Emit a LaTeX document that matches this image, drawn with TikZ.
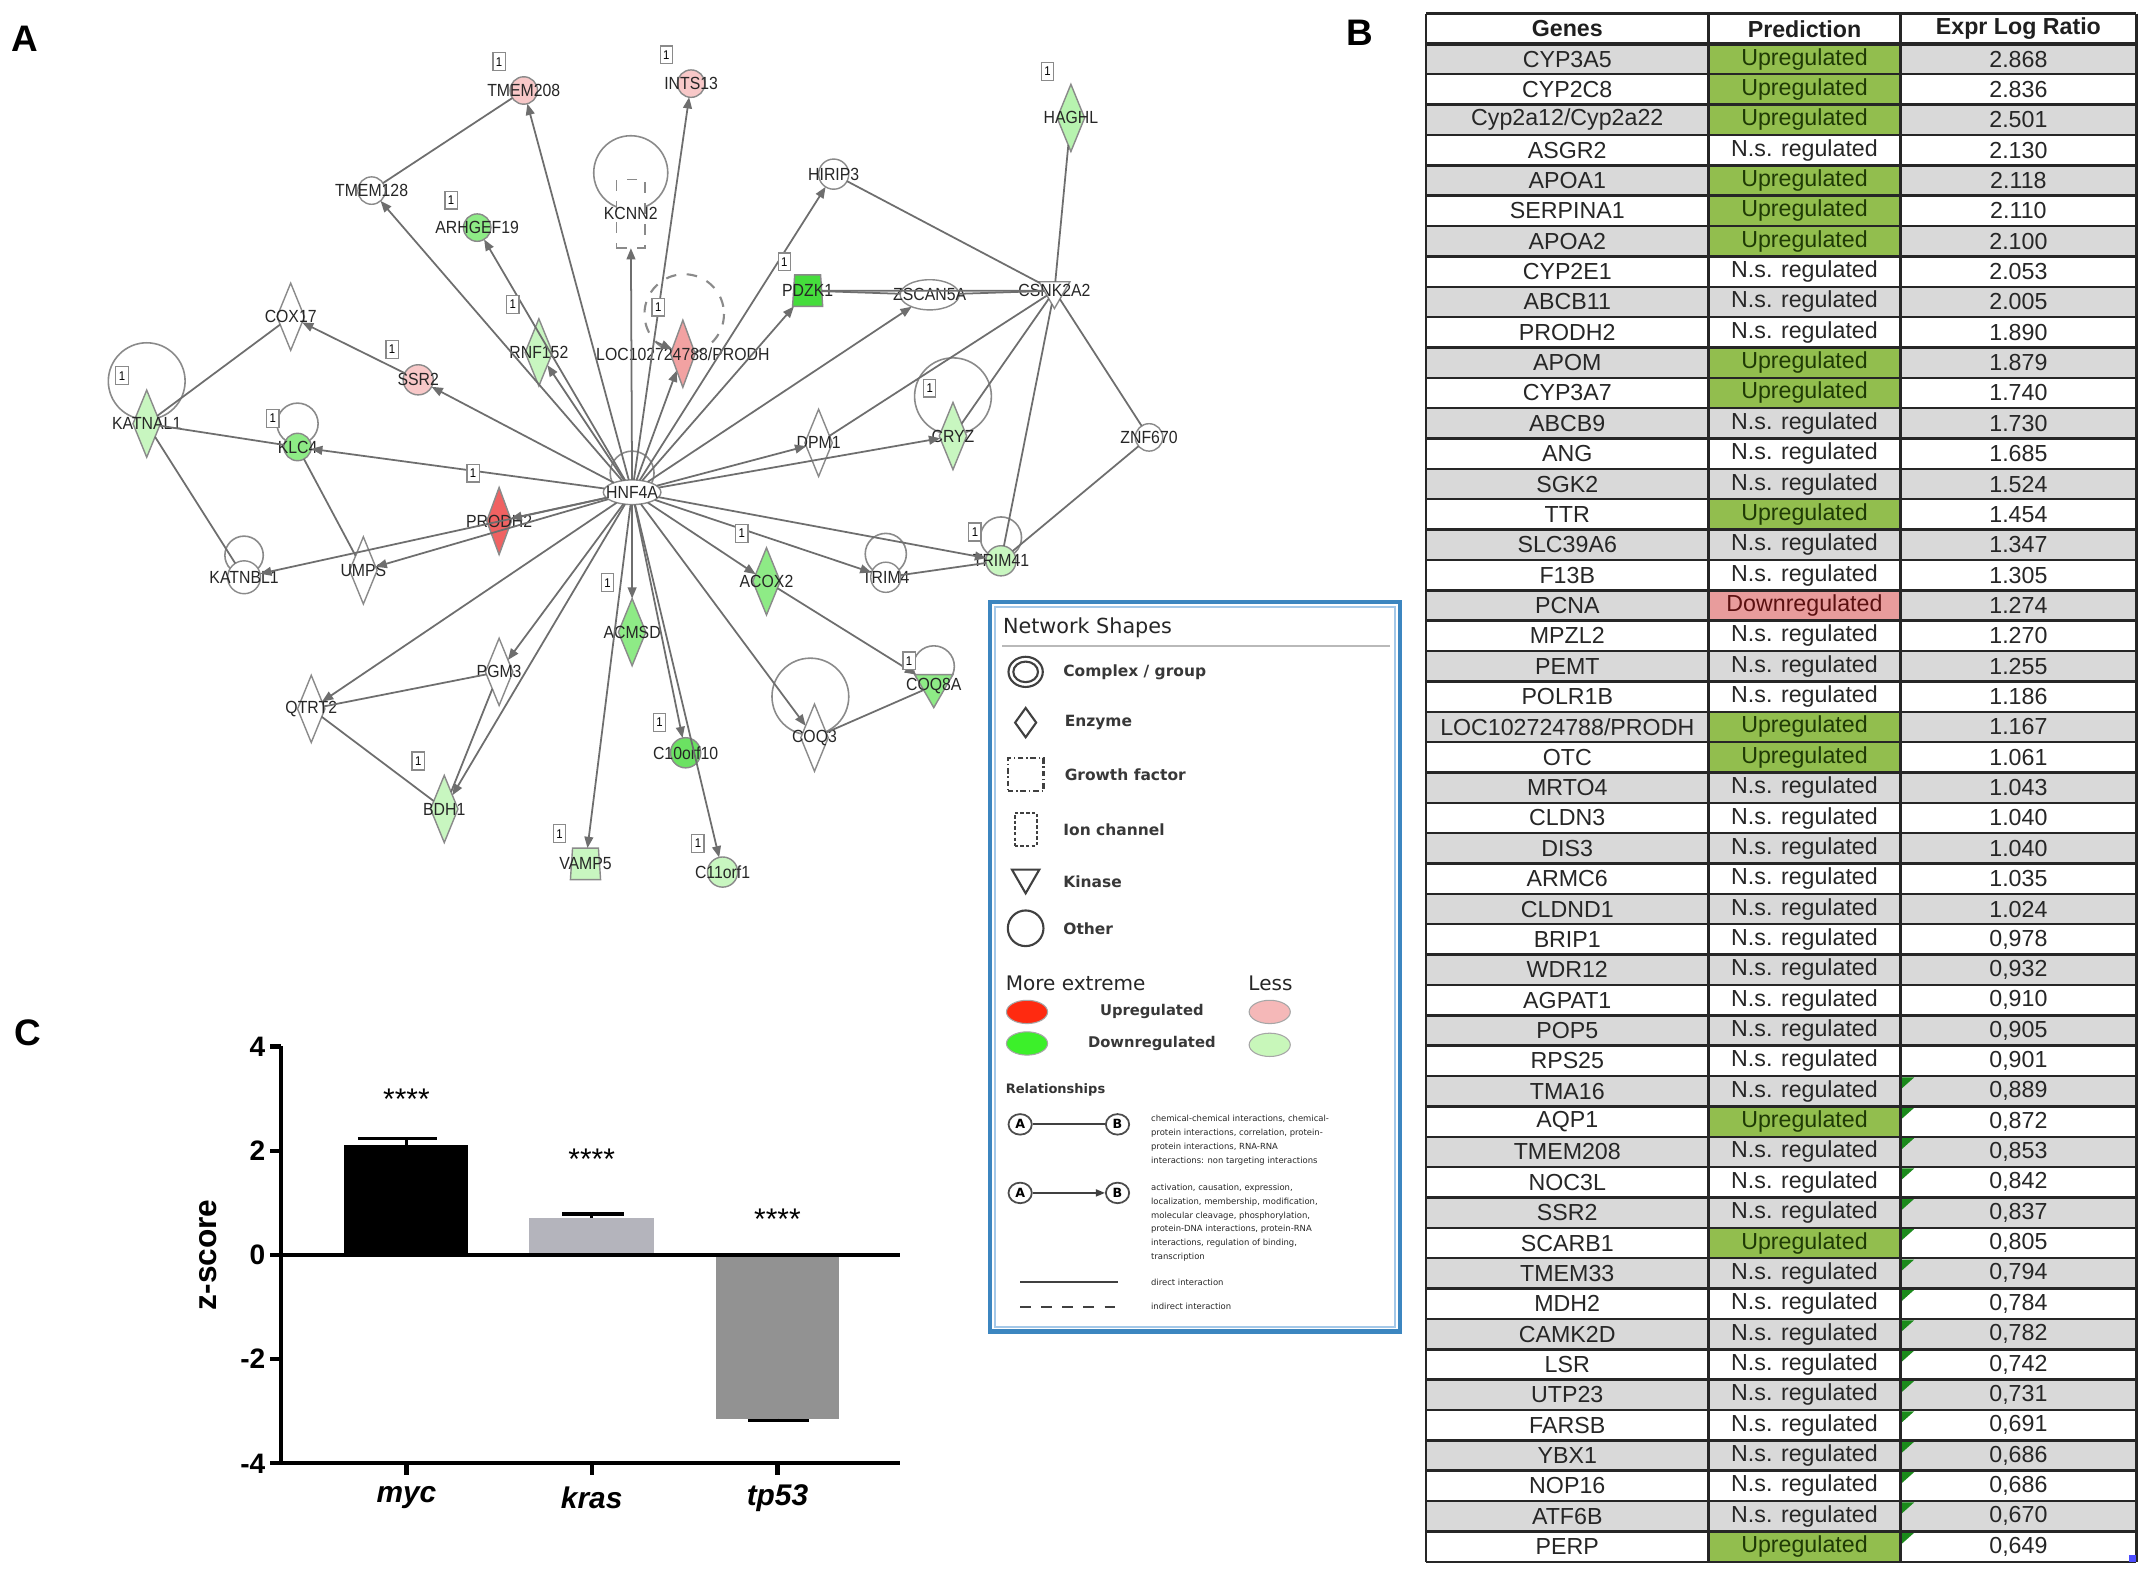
\documentclass[tikz,border=0pt]{standalone}
\usepackage{fontspec}
\setmainfont{Liberation Sans}
\newfontfamily\netfont[FakeStretch=0.9]{Liberation Sans}
\newfontfamily\legfont{DejaVu Sans}
\usetikzlibrary{calc, shapes.geometric, arrows.meta, backgrounds}

\definecolor{edgegray}{HTML}{6E6E6E}
\definecolor{nodegray}{HTML}{8A8A8A}
\definecolor{upmore}{HTML}{F06262}
\definecolor{upmid}{HTML}{F2A2A2}
\definecolor{upless}{HTML}{F8C8C8}
\definecolor{downmore}{HTML}{45DD3C}
\definecolor{downbright}{HTML}{6BE262}
\definecolor{downmid}{HTML}{8EEB86}
\definecolor{downless}{HTML}{C8F6C0}
\definecolor{legred}{HTML}{FF2A10}
\definecolor{leggreen}{HTML}{3CF02A}
\definecolor{legpink}{HTML}{F5B8B8}
\definecolor{leglgreen}{HTML}{C8F7BA}
\definecolor{legblue}{HTML}{3C86C0}
\definecolor{legblue2}{HTML}{A4C8E8}
\definecolor{rowgray}{HTML}{D9D9D9}
\definecolor{predgreen}{HTML}{92BE4E}
\definecolor{predpink}{HTML}{E89C9C}
\definecolor{uptext}{HTML}{1F3A05}
\definecolor{dntext}{HTML}{5A1010}
\definecolor{flaggreen}{HTML}{1B8A1B}
\definecolor{krasgray}{HTML}{B4B4BC}
\definecolor{tpgray}{HTML}{929292}

\newlength\dpx
\setlength\dpx{0.1371mm}
\newcommand{\glab}[1]{\makebox[0pt]{#1}}
\newcommand{\txtU}{\textcolor{uptext}{Upregulated}}
\newcommand{\txtN}{N.s. regulated}
\newcommand{\txtD}{\textcolor{dntext}{Downregulated}}

\tikzset{
  panel/.style={font=\bfseries\fontsize{10.5}{10.5}\selectfont, inner sep=0pt},
  % network shapes
  gene/.style={draw=nodegray, line width=0.4pt, fill=white, inner sep=0pt, outer sep=0pt,
    font=\netfont\fontsize{5}{5}\selectfont, text=black!85},
  other/.style={gene, circle, minimum size=20*\dpx},
  enzyme/.style={gene, diamond, minimum width=20*\dpx, minimum height=49*\dpx},
  kinase/.style={gene, regular polygon, regular polygon sides=3, shape border rotate=180, minimum size=26*\dpx},
  transp/.style={gene, trapezium, trapezium stretches body=true, trapezium left angle=80,
    trapezium right angle=80, minimum width=22*\dpx, minimum height=23*\dpx},
  ionch/.style={gene, rectangle, dashed, minimum width=21*\dpx, minimum height=50*\dpx},
  oval/.style={gene, ellipse, minimum width=42*\dpx, minimum height=18*\dpx},
  link/.style={draw=edgegray, line width=0.5pt},
  act/.style={link, -{Triangle[length=3.2pt,width=2.5pt]}},
  loopline/.style={draw=nodegray, line width=0.45pt},
  badge/.style={draw=nodegray, fill=white, line width=0.35pt, inner sep=0pt,
    minimum width=9*\dpx, minimum height=13*\dpx, font=\netfont\fontsize{3.6}{3.6}\selectfont},
  % legend
  legtitle/.style={anchor=west, inner sep=0pt, font=\legfont\fontsize{5.9}{5.9}\selectfont, text=black!85},
  legshape/.style={draw=black!75, line width=0.6pt, inner sep=0pt},
  legkey/.style={anchor=west, inner sep=0pt, font=\legfont\bfseries\fontsize{4.4}{4.4}\selectfont, text=black!78},
  legsub/.style={anchor=west, inner sep=0pt, font=\legfont\fontsize{5.7}{5.7}\selectfont, text=black!85},
  legcol/.style={inner sep=0pt, font=\legfont\bfseries\fontsize{4.2}{4.2}\selectfont, text=black!78},
  legdot/.style={ellipse, draw=black!35, line width=0.3pt, minimum width=30*\dpx, minimum height=17*\dpx, inner sep=0pt},
  legrel/.style={anchor=west, inner sep=0pt, font=\legfont\bfseries\fontsize{3.7}{3.7}\selectfont, text=black!80},
  abnode/.style={ellipse, draw=black!70, line width=0.5pt, minimum width=17*\dpx, minimum height=15*\dpx,
    inner sep=0pt, font=\legfont\bfseries\fontsize{3.6}{3.6}\selectfont},
  legedge/.style={draw=black!75, line width=0.5pt},
  legtiny/.style={anchor=north west, align=left, inner sep=0pt, font=\legfont\fontsize{2.4}{3.93}\selectfont, text=black!85},
  % table
  tgrid/.style={draw=black!85, line width=0.7pt},
  thead/.style={inner sep=0pt, font=\bfseries\fontsize{6.6}{6.6}\selectfont, text=black!88},
  tcell/.style={inner sep=0pt, font=\fontsize{6.6}{6.6}\selectfont, text=black!85},
  % chart
  axis/.style={draw=black, line width=1.2pt},
  errbar/.style={draw=black, line width=1pt},
  ticklbl/.style={anchor=east, inner sep=0pt, font=\bfseries\fontsize{8}{8}\selectfont},
  catlbl/.style={inner sep=0pt, font=\bfseries\itshape\fontsize{8.5}{8.5}\selectfont},
  stars/.style={inner sep=0pt, font=\fontsize{8.5}{8.5}\selectfont},
  zlabel/.style={rotate=90, inner sep=0pt, font=\bfseries\fontsize{9}{9}\selectfont}
}

\begin{document}
\begin{tikzpicture}[x=0.1371mm, y=-0.1371mm]
  \useasboundingbox (0,0) rectangle (1568,1149);
  \begin{scope}[on background layer]
    \fill[white] (-2,-2) rectangle (1570,1151);
  \end{scope}

  % panel letters
  \node[panel] (panA) at (18,28) {A};
  \node[panel] (panB) at (992,24) {B};
  \node[panel] (panC) at (20,753) {C};

  % ---------------- A: network ----------------
  \node[other, fill=upless] (tmem208) at (382,66) {\glab{TMEM208}};
  \node[other, fill=upless] (ints13) at (504,61) {\glab{INTS13}};
  \node[other] (tmem128) at (271,139) {\glab{TMEM128}};
  \node[other, fill=downmid] (arhgef19) at (348,166) {\glab{ARHGEF19}};
  \node[ionch] (kcnn2) at (460,156) {\glab{KCNN2}};
  \node[other, minimum size=22*\dpx] (hirip3) at (608,127) {\glab{HIRIP3}};
  \node[enzyme, fill=downless!70!downmid] (haghl) at (781,86) {\glab{HAGHL}};
  \node[enzyme] (cox17) at (212,231) {\glab{COX17}};
  \node[enzyme, fill=downless] (rnf152) at (393,257) {\glab{RNF152}};
  \node[enzyme, fill=upmid, minimum width=18*\dpx] (loc) at (498,258) {\glab{LOC102724788/PRODH}};
  \node[transp, fill=downmore] (pdzk1) at (589,212) {\glab{PDZK1}};
  \node[oval, minimum width=43*\dpx, minimum height=22*\dpx] (zscan5a) at (678,215) {\glab{ZSCAN5A}};
  \node[kinase] (csnk2a2) at (769,212) {\glab{CSNK2A2}};
  \node[other, fill=upless, minimum size=22*\dpx] (ssr2) at (305,277) {\glab{SSR2}};
  \node[enzyme, fill=downless] (katnal1) at (107,309) {\glab{KATNAL1}};
  \node[other, fill=downmid] (klc4) at (217,326) {\glab{KLC4}};
  \node[enzyme] (dpm1) at (597,323) {\glab{DPM1}};
  \node[enzyme, fill=downless] (cryz) at (695,318) {\glab{CRYZ}};
  \node[other] (znf670) at (838,319) {\glab{ZNF670}};
  \node[oval] (hnf4a) at (461,359) {\glab{HNF4A}};
  \node[enzyme, fill=upmore, minimum width=18*\dpx] (prodh2) at (364,380) {\glab{PRODH2}};
  \node[other, minimum size=24*\dpx] (katnbl1) at (178,421) {\glab{KATNBL1}};
  \node[enzyme] (umps) at (265,416) {\glab{UMPS}};
  \node[other, minimum size=22*\dpx] (trim4) at (646,421) {\glab{TRIM4}};
  \node[other, fill=downless, minimum size=22*\dpx] (trim41) at (730,409) {\glab{TRIM41}};
  \node[enzyme, fill=downmid] (acox2) at (559,424) {\glab{ACOX2}};
  \node[enzyme, fill=downmid] (acmsd) at (461,461) {\glab{ACMSD}};
  \node[enzyme] (pgm3) at (364,490) {\glab{PGM3}};
  \node[enzyme] (qtrt2) at (227,517) {\glab{QTRT2}};
  \node[kinase, fill=downmid, minimum size=30*\dpx] (coq8a) at (681,500) {\glab{COQ8A}};
  \node[enzyme] (coq3) at (594,538) {\glab{COQ3}};
  \node[other, fill=downbright, minimum size=22*\dpx] (c10orf10) at (500,549) {\glab{C10orf10}};
  \node[enzyme, fill=downless] (bdh1) at (324,590) {\glab{BDH1}};
  \node[transp, fill=downless] (vamp5) at (427,630) {\glab{VAMP5}};
  \node[other, fill=downless, minimum size=22*\dpx] (c11orf1) at (527,636) {\glab{C11orf1}};

  % self loops, behind the nodes
  \begin{scope}[on background layer]
    \foreach \lx/\ly/\lr in {460/126/27, 107/278/28, 217/309/15, 695/289/28, 178/405/14,
                              646/404/15, 730/392/15, 681/486/15, 591/508/28, 461/345/16}
      \draw[loopline] (\lx,\ly) circle [radius=\lr];
    \draw[loopline, dashed, line width=0.6pt] (499,229) circle [radius=29];
  \end{scope}
  \coordinate (locloop) at ($(499,229)+(135:29)$);
  \draw[act] (locloop) -- (loc);

  % HNF4A targets
  \foreach \t in {tmem208,ints13,tmem128,arhgef19,kcnn2,rnf152,loc,hirip3,pdzk1,zscan5a,
                  ssr2,klc4,dpm1,cryz,prodh2,katnbl1,umps,trim4,trim41,acox2,acmsd,
                  c10orf10,c11orf1,vamp5,coq3,pgm3,qtrt2,bdh1}
    \draw[act] (hnf4a) -- (\t);

  % other relations
  \foreach \a/\b in {tmem128/tmem208, hirip3/csnk2a2, pdzk1/zscan5a, zscan5a/csnk2a2,
                     pdzk1/csnk2a2, haghl/csnk2a2, csnk2a2/dpm1, csnk2a2/cryz, csnk2a2/trim41,
                     csnk2a2/znf670, znf670/trim41, trim4/trim41, cox17/katnal1, katnal1/klc4,
                     klc4/umps, katnal1/katnbl1, coq3/coq8a, pgm3/qtrt2, qtrt2/bdh1, pgm3/bdh1}
    \draw[link] (\a) -- (\b);
  \draw[act] (ssr2) -- (cox17);
  \draw[act] (acox2) -- (coq8a);

  % little "1" boxes
  \foreach \bx/\by [count=\k] in {364/45, 486/40, 329/146, 764/52, 374/222, 480/224, 572/191,
                                  286/255, 89/274, 199/305, 678/283, 345/345, 711/388, 541/389,
                                  443/425, 663/482, 481/527, 305/555, 408/608, 509/615}
    \node[badge] (badge\k) at (\bx,\by) {1};

  % ---------------- legend ----------------
  \draw[legblue, line width=1.3pt] (722,439) rectangle (1021,971);
  \draw[legblue2, line width=0.5pt] (725.5,442.5) rectangle (1017.5,967.5);
  \node[legtitle] (lgtitle) at (731,458) {Network Shapes};
  \draw[gray!55, line width=0.5pt] (731,471) -- (1014,471);

  \draw[legshape] (748,490) ellipse [x radius=12.5, y radius=11];
  \draw[legshape] (748,490) ellipse [x radius=9, y radius=7.5];
  \node[legshape, diamond, minimum width=16*\dpx, minimum height=22*\dpx] (lgenz) at (748,527) {};
  \node[legshape, rectangle, minimum width=26*\dpx, minimum height=24*\dpx,
        dash pattern=on 1.6pt off 0.8pt on 0.4pt off 0.8pt] (lggf) at (748,565) {};
  \node[legshape, rectangle, minimum width=16*\dpx, minimum height=24*\dpx,
        dash pattern=on 1pt off 0.6pt] (lgion) at (748,605) {};
  \node[legshape, regular polygon, regular polygon sides=3, shape border rotate=180,
        minimum size=23*\dpx] (lgkin) at (748,640) {};
  \node[legshape, circle, minimum size=26*\dpx] (lgoth) at (748,677) {};

  \node[legkey] (lkcomplex) at (775,490) {Complex / group};
  \node[legkey] (lkenz) at (776,527) {Enzyme};
  \node[legkey] (lkgf) at (776,565) {Growth factor};
  \node[legkey] (lkion) at (775,605) {Ion channel};
  \node[legkey] (lkkin) at (775,643) {Kinase};
  \node[legkey] (lkoth) at (775,677) {Other};

  \node[legsub] (lmore) at (733,717) {More extreme};
  \node[legsub] (lless) at (910,717) {Less};
  \node[legdot, fill=legred] (ldotr) at (749,738) {};
  \node[legdot, fill=legpink] (ldotp) at (926,738) {};
  \node[legdot, fill=leggreen] (ldotg) at (749,761) {};
  \node[legdot, fill=leglgreen] (ldotlg) at (926,762) {};
  \node[legcol] (lup) at (840,738) {Upregulated};
  \node[legcol] (ldown) at (840,761) {Downregulated};

  \node[legrel] (lrel) at (733,795) {Relationships};
  \node[abnode] (la1) at (744,820) {A};
  \node[abnode] (lb1) at (815,820) {B};
  \draw[legedge] (la1) -- (lb1);
  \node[abnode] (la2) at (744,870) {A};
  \node[abnode] (lb2) at (815,870) {B};
  \draw[legedge, -{Triangle[length=2.6pt,width=2pt]}] (la2) -- (lb2);
  \node[legtiny] (ltx1) at (839,813) {chemical-chemical interactions, chemical-\\
    protein interactions, correlation, protein-\\protein interactions, RNA-RNA\\
    interactions: non targeting interactions};
  \node[legtiny] (ltx2) at (839,863) {activation, causation, expression,\\
    localization, membership, modification,\\molecular cleavage, phosphorylation,\\
    protein-DNA interactions, protein-RNA\\interactions, regulation of binding,\\transcription};
  \coordinate (ld1) at (744,935);
  \coordinate (ld2) at (815,935);
  \coordinate (li1) at (744,953);
  \coordinate (li2) at (815,953);
  \draw[legedge] (ld1) -- (ld2);
  \draw[legedge, dashed] (li1) -- (li2);
  \node[legtiny, anchor=west] (ltx3) at (839,935) {direct interaction};
  \node[legtiny, anchor=west] (ltx4) at (839,953) {indirect interaction};

  % ---------------- B: table ----------------
  \foreach \g/\p/\v [count=\i] in {CYP3A5/U/2.868, CYP2C8/U/2.836, {Cyp2a12/Cyp2a22}/U/2.501,
      ASGR2/N/2.130, APOA1/U/2.118, SERPINA1/U/2.110, APOA2/U/2.100, CYP2E1/N/2.053,
      ABCB11/N/2.005, PRODH2/N/1.890, APOM/U/1.879, CYP3A7/U/1.740, ABCB9/N/1.730,
      ANG/N/1.685, SGK2/N/1.524, TTR/U/1.454, SLC39A6/N/1.347, F13B/N/1.305, PCNA/D/1.274,
      MPZL2/N/1.270, PEMT/N/1.255, POLR1B/N/1.186, {LOC102724788/PRODH}/U/1.167,
      OTC/U/1.061, MRTO4/N/1.043, CLDN3/N/1.040, DIS3/N/1.040, ARMC6/N/1.035,
      CLDND1/N/1.024, BRIP1/N/{0,978}, WDR12/N/{0,932}, AGPAT1/N/{0,910}, POP5/N/{0,905},
      RPS25/N/{0,901}, TMA16/N/{0,889}, AQP1/U/{0,872}, TMEM208/N/{0,853}, NOC3L/N/{0,842},
      SSR2/N/{0,837}, SCARB1/U/{0,805}, TMEM33/N/{0,794}, MDH2/N/{0,784}, CAMK2D/N/{0,782},
      LSR/N/{0,742}, UTP23/N/{0,731}, FARSB/N/{0,691}, YBX1/N/{0,686}, NOP16/N/{0,686},
      ATF6B/N/{0,670}, PERP/U/{0,649}} {
    \pgfmathsetmacro\yt{32+(\i-1)*22.14}
    \pgfmathsetmacro\yc{\yt+11.07}
    \pgfmathsetmacro\yb{\yt+22.14}
    \ifodd\i\relax \fill[rowgray] (1040,\yt) rectangle (1558,\yb); \fi
    \if\p U \fill[predgreen] (1246,\yt) rectangle (1386,\yb); \fi
    \if\p D \fill[predpink] (1246,\yt) rectangle (1386,\yb); \fi
    \ifnum\i>34 \fill[flaggreen] (1387,\yt+1) -- ++(9,0) -- ++(-9,8) -- cycle; \fi
    \node[tcell] (g\i) at (1143,\yc) {\g};
    \node[tcell] (p\i) at (1316,\yc) {\csname txt\p\endcsname};
    \node[tcell] (v\i) at (1472,\yc) {\v};
  }
  \foreach \hx/\hname [count=\k] in {1143/Genes, 1316/Prediction, 1472/Expr Log Ratio}
    \node[thead] (th\k) at (\hx,21) {\hname};
  % grid
  \draw[tgrid] (1040,10) -- (1558,10);
  \foreach \k in {1,...,50}
    \draw[tgrid] (1040,32+\k*22.14) -- (1558,32+\k*22.14);
  \draw[tgrid, line width=1.3pt] (1040,32) -- (1558,32);
  \foreach \cx in {1040,1246,1386,1558}
    \draw[tgrid] (\cx,10) -- (\cx,1139);
  \fill[blue!70] (1553,1134) rectangle (1558,1139);

  % ---------------- C: z-score chart ----------------
  \begin{scope}[shift={(205,915.2)}, x=0.1371mm, y=5.21mm]
    \fill[black] (46,0) rectangle (136.5,2.11);
    \fill[krasgray] (181,0) rectangle (272,0.705);
    \fill[tpgray] (317,0) rectangle (407,-3.14);
    % error bars
    \draw[errbar] (91.3,2.11) -- (91.3,2.23) (56,2.23) -- (114,2.23);
    \draw[errbar] (226.5,0.705) -- (226.5,0.785) (205,0.785) -- (250,0.785);
    \draw[errbar] (362,-3.14) -- (362,-3.18) (340.5,-3.18) -- (385,-3.18);
    % axes
    \draw[axis] (0,4) -- (0,-4) -- (451,-4);
    \draw[axis] (0,0) -- (451,0);
    \foreach \v [count=\k] in {4,2,0,-2,-4} {
      \draw[axis] (-8,\v) -- (0,\v);
      \node[ticklbl] (ytick\k) at (-11,\v) {\v};
    }
    \foreach \c/\n/\s [count=\k] in {91.4/myc/2.98, 226.5/kras/1.83, 362/tp53/0.69} {
      \draw[axis] (\c,-4) -- (\c,-4.22);
      \node[catlbl] (cat\k) at (\c,-4.66) {\n};
      \node[stars] (star\k) at (\c,\s) {****};
    }
    \node[zlabel] (zlab) at (-53,0) {z-score};
  \end{scope}
\end{tikzpicture}
\end{document}
